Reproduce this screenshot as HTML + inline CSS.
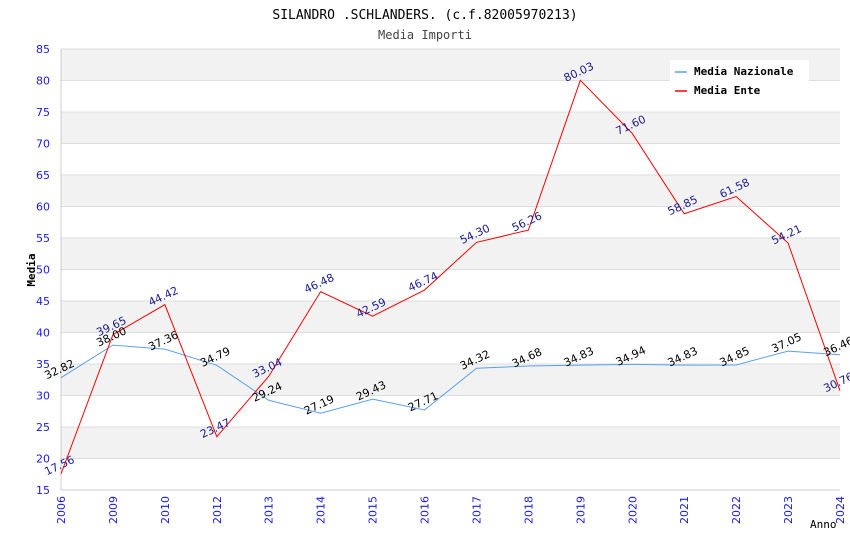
<!DOCTYPE html>
<html><head><meta charset="utf-8"><style>
body{margin:0;background:#fff;}
svg text{font-family:"DejaVu Sans","Liberation Sans",sans-serif;}
</style></head><body>
<svg id="chart" width="850" height="550" xmlns="http://www.w3.org/2000/svg">
<text x="425" y="19" text-anchor="middle" font-size="13" style="font-family:'DejaVu Sans Mono','Liberation Mono',monospace">SILANDRO .SCHLANDERS. (c.f.82005970213)</text>
<text x="425" y="39" text-anchor="middle" font-size="12" fill="#444" style="font-family:'DejaVu Sans Mono','Liberation Mono',monospace">Media Importi</text>
<g id="bands"></g><g id="axes"></g><g id="series"></g><g id="labels"></g>
<g>
<rect x="670" y="60" width="139" height="42" fill="#fff"/>
<line x1="675" y1="72" x2="687" y2="72" stroke="#5aa0ee" stroke-width="1.5"/>
<text x="694" y="75" font-size="11" font-weight="bold" style="font-family:'DejaVu Sans Mono','Liberation Mono',monospace">Media Nazionale</text>
<line x1="675" y1="91" x2="687" y2="91" stroke="#f00" stroke-width="1.5"/>
<text x="694" y="94" font-size="11" font-weight="bold" style="font-family:'DejaVu Sans Mono','Liberation Mono',monospace">Media Ente</text>
</g>
<text transform="translate(35,270) rotate(-90)" text-anchor="middle" font-size="11" font-weight="bold" style="font-family:'DejaVu Sans Mono','Liberation Mono',monospace">Media</text>
<text x="810" y="528" font-size="11" style="font-family:'DejaVu Sans Mono','Liberation Mono',monospace">Anno</text>
</svg>
<script>
const categories=["2006","2009","2010","2012","2013","2014","2015","2016","2017","2018","2019","2020","2021","2022","2023","2024"];
const nazionale=[32.82,38.00,37.36,34.79,29.24,27.19,29.43,27.71,34.32,34.68,34.83,34.94,34.83,34.85,37.05,36.46];
const ente=[17.56,39.65,44.42,23.47,33.04,46.48,42.59,46.74,54.30,56.26,80.03,71.60,58.85,61.58,54.21,30.76];
const yTicks=[15,20,25,30,35,40,45,50,55,60,65,70,75,80,85];
const NS="http://www.w3.org/2000/svg";
const L=61,R=840,T=49,B=490,yMin=15,yMax=85;
const x=i=>L+i*(R-L)/(categories.length-1);
const y=v=>B-(v-yMin)/(yMax-yMin)*(B-T);
function mk(tag,attrs,parent){const e=document.createElementNS(NS,tag);for(const k in attrs)e.setAttribute(k,attrs[k]);parent.appendChild(e);return e;}
const bands=document.getElementById('bands'),axes=document.getElementById('axes'),ser=document.getElementById('series'),lab=document.getElementById('labels');
for(let i=0;i<yTicks.length-1;i++){
  if(i%2===1){const r=mk('rect',{x:L,y:y(yTicks[i+1]),width:R-L,height:y(yTicks[i])-y(yTicks[i+1]),fill:'#f2f2f2'},bands);
  
  }
}
yTicks.forEach(t=>{
  const g=mk('line',{x1:L,x2:R,y1:y(t),y2:y(t),stroke:'#ddd'},axes);
  
  
  const tx=mk('text',{x:50,y:y(t)+4,'text-anchor':'end','font-size':11,fill:'#1a1aee'},axes);tx.textContent=t;
  
  
});
mk('line',{x1:L,x2:L,y1:T,y2:B,stroke:'#ccc'},axes);
mk('line',{x1:L,x2:R,y1:B,y2:B,stroke:'#ccc'},axes);
categories.forEach((c,i)=>{
  const tx=mk('text',{transform:`translate(${x(i)+4},${B+6}) rotate(-90)`,'text-anchor':'end','font-size':11,fill:'#1a1aee'},axes);tx.textContent=c;
  
  
});
function line(vals,color,name,lblColor){
  const p=mk('polyline',{points:vals.map((v,i)=>x(i)+','+y(v)).join(' '),fill:'none',stroke:color,'stroke-width':1},ser);
  
  
  vals.forEach((v,i)=>{
    const t=mk('text',{transform:`translate(${x(i)},${y(v)-5}) rotate(-25)`,'text-anchor':'middle','font-size':11,fill:lblColor},lab);
    t.textContent=v.toFixed(2);
    
    
  });
}
line(nazionale,'#5aa0ee','line-nazionale','#000');
line(ente,'#f00','line-ente','#1a1a90');
</script>
</body></html>
